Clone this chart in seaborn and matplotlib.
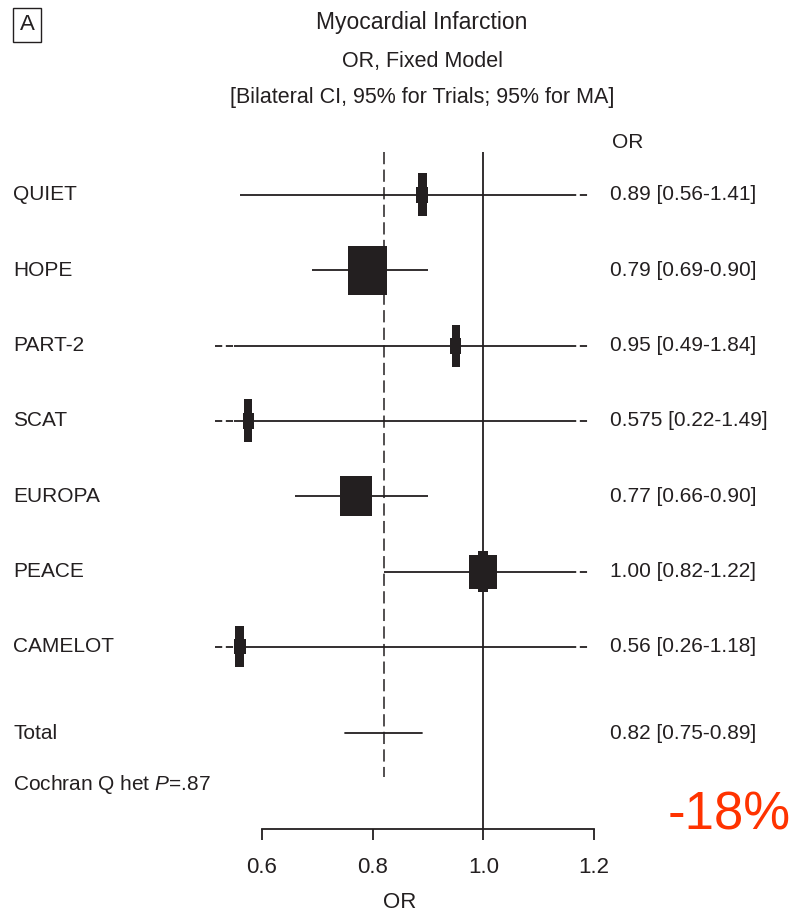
import matplotlib
matplotlib.use('Agg')
import matplotlib.pyplot as plt
import matplotlib.transforms as mtransforms
from matplotlib.patches import Rectangle
import seaborn as sns

# data
studies = ['QUIET', 'HOPE', 'PART-2', 'SCAT', 'EUROPA', 'PEACE', 'CAMELOT']
odds = [0.89, 0.79, 0.95, 0.575, 0.77, 1.00, 0.56]
ci_low = [0.56, 0.69, 0.49, 0.22, 0.66, 0.82, 0.26]
ci_high = [1.41, 0.90, 1.84, 1.49, 0.90, 1.22, 1.18]
or_labels = ['0.89 [0.56-1.41]', '0.79 [0.69-0.90]', '0.95 [0.49-1.84]',
             '0.575 [0.22-1.49]', '0.77 [0.66-0.90]', '1.00 [0.82-1.22]',
             '0.56 [0.26-1.18]']
total_or = 0.82
total_low = 0.75
total_high = 0.89
total_label = '0.82 [0.75-0.89]'
xticks = [0.6, 0.8, 1.0, 1.2]

# box shapes in pixels (outer w, h, inner w, h) as drawn in the scan
boxes = [(9, 43, 12, 16), (39, 49, 39, 49), (8, 42, 11, 16), (8, 43, 11, 16),
         (32, 40, 32, 40), (10, 41, 28, 34), (9, 41, 12, 15)]

INK = '#231f20'
W, H = 794, 917
PX_X = 553.3   # pixels per OR unit
PX_Y = 75.3    # pixels per row
Y0 = 195       # pixel row of first study
TOTAL_ROW = 7.15

sns.set_theme(style='white')
plt.rcParams['font.family'] = ['Liberation Sans', 'DejaVu Sans']
plt.rcParams['mathtext.fontset'] = 'custom'
plt.rcParams['mathtext.it'] = 'Liberation Sans:italic'
plt.rcParams['mathtext.rm'] = 'Liberation Sans'

fig = plt.figure(figsize=(W / 100, H / 100), dpi=100)
ax_l, ax_r, ax_t, ax_b = 200, 600, 152, 829
ax = fig.add_axes([ax_l / W, 1 - ax_b / H, (ax_r - ax_l) / W, (ax_b - ax_t) / H])
ax.set_xlim(0.6 - (262 - ax_l) / PX_X, 1.2 + (ax_r - 594) / PX_X)
ax.set_ylim((ax_b - Y0) / PX_Y, (ax_t - Y0) / PX_Y)

lo_clip, hi_clip, ext = 0.55, 1.155, 0.035
for i in range(len(studies)):
    lo, hi = ci_low[i], ci_high[i]
    a = max(lo, lo_clip)
    b = min(hi, hi_clip)
    ax.plot([a, b], [i, i], color=INK, lw=1.3, solid_capstyle='butt')
    if lo < lo_clip:
        ax.plot([lo_clip - ext, lo_clip], [i, i], color=INK, lw=1.3, ls=(0, (4, 2)))
    if hi > hi_clip:
        ax.plot([hi_clip, hi_clip + ext], [i, i], color=INK, lw=1.3, ls=(0, (4, 2)))
    w1, h1, w2, h2 = boxes[i]
    for w, h in [(w1, h1), (w2, h2)]:
        wd, hd = w / PX_X, h / PX_Y
        ax.add_patch(Rectangle((odds[i] - wd / 2, i - hd / 2), wd, hd,
                               facecolor=INK, edgecolor='none', zorder=3))

ax.plot([total_low, total_high], [TOTAL_ROW, TOTAL_ROW], color=INK, lw=1.3)
ax.axvline(1.0, color=INK, lw=1.3, zorder=4)
ax.plot([total_or, total_or], [(ax_t - Y0) / PX_Y, (777 - Y0) / PX_Y],
        color=INK, lw=1.1, ls=(0, (8, 3.5)), zorder=4)

sns.despine(ax=ax, left=True, top=True, right=True)
ax.spines['bottom'].set_bounds(0.6, 1.2)
ax.spines['bottom'].set_color(INK)
ax.spines['bottom'].set_linewidth(1.3)
ax.set_xticks(xticks)
ax.set_xticklabels(['%.1f' % t for t in xticks], fontsize=16, color=INK)
ax.tick_params(axis='x', direction='out', length=8, width=1.3, color=INK, pad=12, bottom=True)
ax.set_yticks([])
ax.set_xlabel('OR', fontsize=16, color=INK, labelpad=10)
ax.grid(False)

rows = list(range(len(studies))) + [TOTAL_ROW]
trans_l = mtransforms.blended_transform_factory(fig.transFigure, ax.transData)
for r, s in zip(rows, studies + ['Total']):
    ax.text(13 / W, r, s, transform=trans_l, fontsize=15, color=INK, va='center', ha='left')
for r, s in zip(rows, or_labels + [total_label]):
    ax.text(610 / W, r, s, transform=trans_l, fontsize=15, color=INK, va='center', ha='left')

fig.text(13 / W, 1 - 785 / H, 'Cochran Q het $P$=.87', fontsize=15, color=INK, va='center')
fig.text(612 / W, 1 - 143 / H, 'OR', fontsize=15, color=INK, va='center')

fig.text(422 / W, 1 - 22 / H, 'Myocardial Infarction', fontsize=16.5, color=INK, ha='center', va='center')
fig.text(422 / W, 1 - 62 / H, 'OR, Fixed Model', fontsize=15.5, color=INK, ha='center', va='center')
fig.text(422 / W, 1 - 98 / H, '[Bilateral CI, 95% for Trials; 95% for MA]', fontsize=15.5,
         color=INK, ha='center', va='center')
fig.text(27 / W, 1 - 25 / H, 'A', fontsize=16, color=INK, ha='center', va='center',
         bbox=dict(boxstyle='square,pad=0.3', facecolor='none', edgecolor=INK, lw=1.0))

fig.text(729 / W, 1 - 815 / H, '-18%', fontsize=38, color='#ff3300', ha='center', va='center')

fig.savefig('out.png', dpi=100)
